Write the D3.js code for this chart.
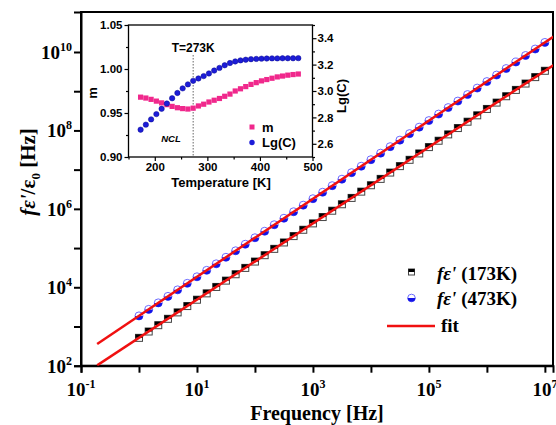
<!DOCTYPE html>
<html>
<head>
<meta charset="utf-8">
<script src="https://cdn.jsdelivr.net/npm/d3@7"></script>
<style>
  body { margin: 0; background: #fff; }
</style>
</head>
<body>
<div id="chart"></div>
<script>
// ---- main plot data ----
const freq = [1, 1.47, 2.15, 3.16, 4.64, 6.81, 10, 14.7, 21.5, 31.6, 46.4, 68.1,
  100, 147, 215, 316, 464, 681, 1e3, 1.47e3, 2.15e3, 3.16e3, 4.64e3, 6.81e3,
  1e4, 1.47e4, 2.15e4, 3.16e4, 4.64e4, 6.81e4, 1e5, 1.47e5, 2.15e5, 3.16e5, 4.64e5, 6.81e5,
  1e6, 1.47e6, 2.15e6, 3.16e6, 4.64e6, 6.81e6, 1e7];
const fe173 = [5.13e2, 7.45e2, 1.08e3, 1.57e3, 2.29e3, 3.32e3, 4.82e3, 7.00e3, 1.02e4, 1.48e4,
  2.15e4, 3.12e4, 4.53e4, 6.58e4, 9.55e4, 1.39e5, 2.02e5, 2.93e5, 4.26e5, 6.18e5, 8.97e5,
  1.31e6, 1.90e6, 2.75e6, 4.00e6, 5.81e6, 8.43e6, 1.23e7, 1.78e7, 2.59e7, 3.76e7, 5.46e7,
  7.93e7, 1.15e8, 1.67e8, 2.43e8, 3.53e8, 5.13e8, 7.45e8, 1.08e9, 1.57e9, 2.29e9, 3.32e9];
const fe473 = [1.86e3, 2.73e3, 4.00e3, 5.86e3, 8.59e3, 1.26e4, 1.85e4, 2.70e4, 3.96e4, 5.81e4,
  8.51e4, 1.25e5, 1.83e5, 2.68e5, 3.93e5, 5.75e5, 8.43e5, 1.24e6, 1.81e6, 2.65e6, 3.89e6,
  5.70e6, 8.36e6, 1.22e7, 1.79e7, 2.63e7, 3.85e7, 5.65e7, 8.28e7, 1.21e8, 1.78e8, 2.61e8,
  3.82e8, 5.60e8, 8.20e8, 1.20e9, 1.76e9, 2.58e9, 3.78e9, 5.55e9, 8.13e9, 1.19e10, 1.75e10];
const fitFreq = [0.19, 2e7];
const fit173 = [1.02e2, 6.52e9];
const fit473 = [3.57e2, 3.48e10];

const xTicks = [1e-1, 1, 1e1, 1e2, 1e3, 1e4, 1e5, 1e6, 1e7];
const xLabels = [-1, 1, 3, 5, 7];
const yTicks = [1e2, 1e3, 1e4, 1e5, 1e6, 1e7, 1e8, 1e9, 1e10];
const yLabels = [2, 4, 6, 8, 10];

// ---- inset data ----
const temps = [173, 183, 193, 203, 213, 223, 233, 243, 253, 263, 273, 283, 293, 303, 313, 323,
  333, 343, 353, 363, 373, 383, 393, 403, 413, 423, 433, 443, 453, 463, 473];
const mVals = [0.968, 0.967, 0.9655, 0.9635, 0.9615, 0.9595, 0.9575, 0.956, 0.955, 0.9545, 0.9555,
  0.958, 0.960, 0.9625, 0.9645, 0.9665, 0.969, 0.9715, 0.975, 0.9775, 0.980, 0.9825, 0.9845,
  0.9865, 0.988, 0.9895, 0.991, 0.992, 0.993, 0.9937, 0.9943];
const lgC = [2.707, 2.745, 2.785, 2.825, 2.865, 2.905, 2.945, 2.985, 3.02, 3.05, 3.077, 3.095,
  3.113, 3.133, 3.155, 3.175, 3.195, 3.212, 3.224, 3.232, 3.237, 3.241, 3.243, 3.245, 3.246,
  3.247, 3.247, 3.248, 3.248, 3.248, 3.249];

const W = 556, H = 425;
const serif = '"Liberation Serif", "Times New Roman", serif';
const sans = '"Liberation Sans", Arial, sans-serif';

const svg = d3.select('#chart').append('svg')
  .attr('width', W).attr('height', H)
  .style('background', '#fff');

// ---- main scales ----
const x = d3.scaleLog().domain([1e-1, Math.pow(10, 7.14)]).range([81, 553]);
const y = d3.scaleLog().domain([1e2, Math.pow(10, 11.02)]).range([365.7, 12]);

svg.append('clipPath').attr('id', 'clipMain')
  .append('rect').attr('x', 81).attr('y', 12).attr('width', 553 - 81).attr('height', 365.7 - 12);

// frame
svg.append('rect')
  .attr('x', 81).attr('y', 12).attr('width', 553 - 81).attr('height', 365.7 - 12)
  .attr('fill', 'none').attr('stroke', '#000').attr('stroke-width', 2);

// x axis
const xAxis = svg.append('g')
  .attr('transform', 'translate(0,365.7)')
  .call(d3.axisBottom(x).tickValues(xTicks).tickSize(7).tickFormat(''));
xAxis.select('.domain').attr('stroke-width', 2);
xAxis.selectAll('.tick line').attr('stroke-width', 2);

xLabels.forEach(p => {
  const t = svg.append('text')
    .attr('x', x(Math.pow(10, p))).attr('y', 396)
    .attr('text-anchor', 'middle')
    .style('font-family', serif).style('font-weight', 'bold').style('font-size', '19px');
  t.append('tspan').text('10');
  t.append('tspan').attr('dy', -8).style('font-size', '12px').text(p);
});

// y axis
const yAxis = svg.append('g')
  .attr('transform', 'translate(81,0)')
  .call(d3.axisLeft(y).tickValues(yTicks).tickSize(7).tickFormat(''));
yAxis.select('.domain').attr('stroke-width', 2);
yAxis.selectAll('.tick line').attr('stroke-width', 2);

yLabels.forEach(p => {
  const t = svg.append('text')
    .attr('x', 72).attr('y', y(Math.pow(10, p)) + 7)
    .attr('text-anchor', 'end')
    .style('font-family', serif).style('font-weight', 'bold').style('font-size', '19px');
  t.append('tspan').text('10');
  t.append('tspan').attr('dy', -8).style('font-size', '12px').text(p);
});

// axis titles
svg.append('text')
  .attr('x', 317).attr('y', 420)
  .attr('text-anchor', 'middle')
  .style('font-family', serif).style('font-weight', 'bold').style('font-size', '20px')
  .text('Frequency [Hz]');

const yTitle = svg.append('text')
  .attr('transform', 'translate(35,172) rotate(-90)')
  .attr('text-anchor', 'middle')
  .style('font-family', serif).style('font-weight', 'bold').style('font-size', '21px');
yTitle.append('tspan').style('font-style', 'italic').text('f\u03b5\'');
yTitle.append('tspan').text('/\u03b5');
yTitle.append('tspan').attr('dy', 5).style('font-size', '13px').text('0');
yTitle.append('tspan').attr('dy', -5).text(' [Hz]');

// ---- marker helpers ----
function squareMarker(g, cx, cy, s) {
  g.append('rect').attr('x', cx - s / 2).attr('y', cy - s / 2).attr('width', s).attr('height', s)
    .attr('fill', '#fff').attr('stroke', '#444').attr('stroke-width', 1);
  g.append('rect').attr('x', cx - s / 2).attr('y', cy - s / 2).attr('width', s).attr('height', s / 2)
    .attr('fill', '#000');
}
function circleMarker(g, cx, cy, r) {
  g.append('circle').attr('cx', cx).attr('cy', cy).attr('r', r)
    .attr('fill', '#fff').attr('stroke', '#6b6bff').attr('stroke-width', 1);
  g.append('path')
    .attr('d', `M${cx - r},${cy} A${r},${r} 0 0 0 ${cx + r},${cy} Z`)
    .attr('fill', '#1414e6');
}

// data points
const pts = svg.append('g');
freq.forEach((f, i) => squareMarker(pts, x(f), y(fe173[i]), 7));
freq.forEach((f, i) => circleMarker(pts, x(f), y(fe473[i]), 4));

// fit lines drawn over the symbols
const plot = svg.append('g').attr('clip-path', 'url(#clipMain)');
const line = d3.line().x(d => x(d[0])).y(d => y(d[1]));
[fit173, fit473].forEach(arr => {
  plot.append('path')
    .datum(fitFreq.map((f, i) => [f, arr[i]]))
    .attr('d', line)
    .attr('fill', 'none').attr('stroke', '#f01010').attr('stroke-width', 2.5);
});

// ---- main legend ----
const leg = svg.append('g');
squareMarker(leg, 411.5, 272, 6);
circleMarker(leg, 411.5, 298, 3.8);
leg.append('line').attr('x1', 387).attr('x2', 435).attr('y1', 326).attr('y2', 326)
  .attr('stroke', '#f01010').attr('stroke-width', 2.5);
[['(173K)', 280], ['(473K)', 305]].forEach(([s, yy]) => {
  const t = leg.append('text').attr('x', 437).attr('y', yy)
    .style('font-family', serif).style('font-weight', 'bold').style('font-size', '19px');
  t.append('tspan').style('font-style', 'italic').text('f\u03b5\' ');
  t.append('tspan').text(s);
});
leg.append('text').attr('x', 441).attr('y', 332)
  .style('font-family', serif).style('font-weight', 'bold').style('font-size', '19px')
  .text('fit');

// ---- inset ----
const ix = d3.scaleLinear().domain([150, 500]).range([128.5, 312.5]);
const iyL = d3.scaleLinear().domain([0.90, 1.05]).range([157, 25]);
const iyR = d3.scaleLinear().domain([2.5, 3.5]).range([157, 25]);

const inset = svg.append('g');
inset.append('rect')
  .attr('x', 128.5).attr('y', 25).attr('width', 312.5 - 128.5).attr('height', 157 - 25)
  .attr('fill', '#fff').attr('stroke', '#000').attr('stroke-width', 1.3);

function styleInsetAxis(g) {
  g.select('.domain').remove();
  g.selectAll('.tick line').attr('stroke-width', 1.2);
  g.selectAll('text')
    .style('font-family', sans).style('font-weight', 'bold').style('font-size', '11.5px')
    .attr('fill', '#000');
}

// minor ticks
inset.append('g').attr('transform', 'translate(0,157)')
  .call(d3.axisBottom(ix).tickValues([150, 250, 350, 450]).tickSize(2.5).tickFormat(''))
  .call(styleInsetAxis);
inset.append('g').attr('transform', 'translate(0,157)')
  .call(d3.axisBottom(ix).tickValues([200, 300, 400, 500]).tickSize(4).tickPadding(2)
    .tickFormat(d3.format('d')))
  .call(styleInsetAxis);

inset.append('g').attr('transform', 'translate(128.5,0)')
  .call(d3.axisLeft(iyL).tickValues([0.925, 0.975, 1.025]).tickSize(2.5).tickFormat(''))
  .call(styleInsetAxis);
inset.append('g').attr('transform', 'translate(128.5,0)')
  .call(d3.axisLeft(iyL).tickValues([0.90, 0.95, 1.00, 1.05]).tickSize(4).tickPadding(2)
    .tickFormat(d3.format('.2f')))
  .call(styleInsetAxis);

inset.append('g').attr('transform', 'translate(312.5,0)')
  .call(d3.axisRight(iyR).tickValues([2.5, 2.7, 2.9, 3.1, 3.3, 3.5]).tickSize(2.5).tickFormat(''))
  .call(styleInsetAxis);
inset.append('g').attr('transform', 'translate(312.5,0)')
  .call(d3.axisRight(iyR).tickValues([2.6, 2.8, 3.0, 3.2, 3.4]).tickSize(4).tickPadding(1)
    .tickFormat(d3.format('.1f')))
  .call(styleInsetAxis);

// inset titles
inset.append('text').attr('x', 221).attr('y', 187)
  .attr('text-anchor', 'middle')
  .style('font-family', sans).style('font-weight', 'bold').style('font-size', '13px')
  .text('Temperature [K]');
inset.append('text').attr('transform', 'translate(97,93) rotate(-90)')
  .attr('text-anchor', 'middle')
  .style('font-family', sans).style('font-weight', 'bold').style('font-size', '13px')
  .text('m');
inset.append('text').attr('transform', 'translate(346,96) rotate(-90)')
  .attr('text-anchor', 'middle')
  .style('font-family', sans).style('font-weight', 'bold').style('font-size', '13px')
  .text('Lg(C)');

// dotted line at 273 K
inset.append('line')
  .attr('x1', ix(273)).attr('x2', ix(273)).attr('y1', 55).attr('y2', 157)
  .attr('stroke', '#555').attr('stroke-width', 0.9).attr('stroke-dasharray', '1.5,1.5');
inset.append('text').attr('x', ix(273)).attr('y', 52)
  .attr('text-anchor', 'middle')
  .style('font-family', sans).style('font-weight', 'bold').style('font-size', '12px')
  .text('T=273K');
inset.append('text').attr('x', 171).attr('y', 142)
  .attr('text-anchor', 'middle')
  .style('font-family', sans).style('font-weight', 'bold').style('font-style', 'italic')
  .style('font-size', '9.5px')
  .text('NCL');

// inset data
const pink = '#f0288c', blue = '#1c1cd8';
inset.selectAll('.mpt').data(temps).enter().append('rect')
  .attr('class', 'mpt')
  .attr('x', (d) => ix(d) - 2.6).attr('y', (d, i) => iyL(mVals[i]) - 2.6)
  .attr('width', 5.2).attr('height', 5.2)
  .attr('fill', pink);
inset.selectAll('.cpt').data(temps).enter().append('circle')
  .attr('class', 'cpt')
  .attr('cx', d => ix(d)).attr('cy', (d, i) => iyR(lgC[i]))
  .attr('r', 2.7)
  .attr('fill', blue).attr('stroke', '#0a0a90').attr('stroke-width', 0.5);

// inset legend
inset.append('rect').attr('x', 249.5).attr('y', 124.5).attr('width', 5).attr('height', 5).attr('fill', pink);
inset.append('circle').attr('cx', 252).attr('cy', 142.5).attr('r', 2.7).attr('fill', blue);
inset.append('text').attr('x', 262).attr('y', 132)
  .style('font-family', sans).style('font-weight', 'bold').style('font-size', '13px').text('m');
inset.append('text').attr('x', 262).attr('y', 147)
  .style('font-family', sans).style('font-weight', 'bold').style('font-size', '13px').text('Lg(C)');
</script>
</body>
</html>
